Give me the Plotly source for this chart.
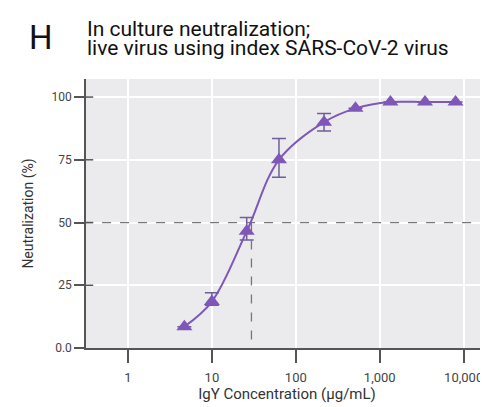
import plotly.graph_objects as go

# values
concentration = [4.7, 10, 26, 63, 217, 514, 1340, 3460, 8000]
neutralization = [8.5, 18.5, 46.5, 75, 90, 95.5, 98, 98, 98]
err_plus = [0, 3.5, 5.5, 8.5, 3.5, 0, 0, 0, 0]
err_minus = [0, 1.5, 3.5, 7, 3.5, 0, 0, 0, 0]
ic50 = 29.6
half_level = 50

x_tickvals = [1, 10, 100, 1000, 10000]
x_ticktext = ["1", "10", "100", "1,000", "10,000"]
y_tickvals = [0, 25, 50, 75, 100]
y_ticktext = ["0.0", "25", "50", "75", "100"]

purple = "#7e57b8"
axis_color = "#555555"

fig = go.Figure()

# dashed IC50 guides
fig.add_trace(go.Scatter(
    x=[0.3, 20000], y=[half_level, half_level], mode="lines",
    line=dict(color="#777777", width=1.3, dash="dash"), hoverinfo="skip",
))
fig.add_trace(go.Scatter(
    x=[ic50, ic50], y=[half_level, 1], mode="lines",
    line=dict(color="#777777", width=1.3, dash="dash"), hoverinfo="skip",
))

# fitted curve (smoothed through the points)
fig.add_trace(go.Scatter(
    x=concentration, y=neutralization, mode="lines",
    line=dict(color=purple, width=2, shape="spline", smoothing=1.0),
    hoverinfo="skip",
))

# data points with error bars
fig.add_trace(go.Scatter(
    x=concentration, y=neutralization, mode="markers",
    marker=dict(symbol="triangle-up", size=14, color=purple),
    error_y=dict(type="data", array=err_plus, arrayminus=err_minus,
                 color="#6f5f96", thickness=1.5, width=7),
))

# short tick stubs inside the y axis (ticks cross the axis line)
for v in [25, 50, 75, 100]:
    fig.add_shape(type="line", xref="paper", yref="y", x0=0, x1=0.018, y0=v, y1=v,
                  line=dict(color=axis_color, width=1.5))

fig.add_annotation(text="H", xref="paper", yref="paper", x=-0.147, y=1.155,
                   xanchor="left", yanchor="middle", showarrow=False,
                   font=dict(size=33, color="#111111", family="Roboto"))
fig.add_annotation(text="In culture neutralization;", xref="paper", yref="paper",
                   x=-0.003, y=1.186, xanchor="left", yanchor="middle", showarrow=False,
                   font=dict(size=21, color="#111111", family="Roboto"))
fig.add_annotation(text="live virus using index SARS-CoV-2 virus", xref="paper", yref="paper",
                   x=-0.003, y=1.114, xanchor="left", yanchor="middle", showarrow=False,
                   font=dict(size=21, color="#111111", family="Roboto"))

# page body keeps an 8px margin, so the figure is 8px smaller on each axis
fig.update_layout(
    width=480,
    height=399,
    margin=dict(l=78, r=0, t=71, b=59, autoexpand=False),
    paper_bgcolor="white",
    plot_bgcolor="#ebebee",
    showlegend=False,
    font=dict(family="Roboto", color="#444444", size=12),
)
fig.update_xaxes(
    type="log", range=[-0.5, 4.29], automargin=False,
    tickvals=x_tickvals, ticktext=x_ticktext,
    showgrid=True, gridcolor="white", gridwidth=2,
    showline=True, linecolor=axis_color, linewidth=1.5,
    ticks="outside", ticklen=13, tickwidth=1.5, tickcolor=axis_color,
    ticklabelstandoff=4,
    tickfont=dict(size=13, color="#444444"),
    title=dict(text="IgY Concentration (µg/mL)", font=dict(size=15, color="#333333"), standoff=4),
    zeroline=False,
)
fig.update_yaxes(
    range=[0, 107.2], automargin=False,
    tickvals=y_tickvals, ticktext=y_ticktext,
    showgrid=True, gridcolor="white", gridwidth=2,
    showline=True, linecolor=axis_color, linewidth=1.5,
    ticks="outside", ticklen=10, tickwidth=1.5, tickcolor=axis_color,
    tickfont=dict(size=12, color="#444444"),
    title=dict(text="Neutralization (%)", font=dict(size=14, color="#333333"), standoff=15),
    zeroline=False,
)

fig.write_html("out.html")
